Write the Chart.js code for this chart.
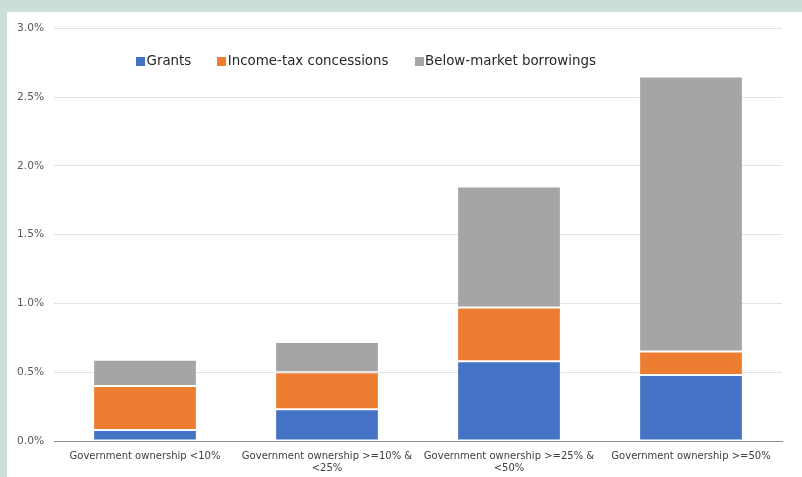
<!DOCTYPE html>
<html>
<head>
<meta charset="utf-8">
<script src="https://cdn.jsdelivr.net/npm/chart.js@4.4.1/dist/chart.umd.min.js"></script>
<style>
    html, body { margin: 0; padding: 0; }
    body {
        width: 802px;
        height: 477px;
        background: #cae0d6;
        position: relative;
        overflow: hidden;
        font-family: "DejaVu Sans", Verdana, sans-serif;
    }
    .panel { position: absolute; left: 7px; top: 12px; width: 795px; height: 465px; background: #ffffff; }
    #chart { display: block; }
    .legend {
        position: absolute;
        left: 129px;
        top: 41px;
        display: flex;
        align-items: center;
        font-size: 13.4px;
        line-height: 16px;
        color: #262626;
    }
    .legend .item { display: flex; align-items: center; margin-right: 26px; }
    .legend .swatch { display: inline-block; width: 9px; height: 9px; margin-right: 1.5px; }
</style>
</head>
<body>
<div class="panel">
    <canvas id="chart" width="795" height="465"></canvas>
    <div class="legend" id="legend"></div>
</div>
<script>
const categories = [
    ['Government ownership <10%'],
    ['Government ownership >=10% &', '<25%'],
    ['Government ownership >=25% &', '<50%'],
    ['Government ownership >=50%']
]
const seriesNames = ['Grants', 'Income-tax concessions', 'Below-market borrowings']
const grants = [0.08, 0.23, 0.58, 0.48]
const taxConcessions = [0.32, 0.27, 0.39, 0.17]
const belowMarket = [0.19, 0.22, 0.88, 2.0]
const yMin = 0
const yMax = 3.0
const yStep = 0.5

const colors = ['#4472c4', '#ed7d31', '#a5a5a5']
const values = [grants, taxConcessions, belowMarket]

const datasets = seriesNames.map((name, i) => ({
    label: name,
    data: values[i],
    backgroundColor: colors[i],
    borderColor: 'rgba(255,255,255,0.35)',
    borderWidth: 1,
    borderSkipped: false,
    barPercentage: 0.57,
    categoryPercentage: 1
}))

const chart = new Chart(document.getElementById('chart'), {
    type: 'bar',
    data: { labels: categories, datasets: datasets },
    options: {
        responsive: false,
        animation: false,
        layout: { padding: { top: 15, right: 20, bottom: 0, left: 0 } },
        plugins: {
            legend: { display: false },
            tooltip: { enabled: false }
        },
        scales: {
            x: {
                stacked: true,
                afterFit: (scale) => { scale.height = 36 },
                grid: { display: false, drawTicks: false },
                border: { display: true, color: '#8c8c8c', width: 1 },
                ticks: {
                    color: '#404040',
                    padding: 9,
                    maxRotation: 0,
                    autoSkip: false,
                    font: { family: '"DejaVu Sans", Verdana, sans-serif', size: 10, lineHeight: 1.2 }
                }
            },
            y: {
                stacked: true,
                min: yMin,
                max: yMax,
                afterFit: (scale) => { scale.width = 47 },
                grid: { color: '#e3e3e3', lineWidth: 1, drawTicks: false },
                border: { display: false },
                ticks: {
                    stepSize: yStep,
                    padding: 10,
                    color: '#595959',
                    font: { family: '"DejaVu Sans", Verdana, sans-serif', size: 10.6 },
                    callback: (v) => v.toFixed(1) + '%'
                }
            }
        }
    }
})

// legend sits inside the plot, built from the datasets
const legend = document.getElementById('legend')
chart.data.datasets.forEach(ds => {
    const item = document.createElement('span')
    item.className = 'item'
    item.innerHTML = `<span class="swatch" style="background:${ds.backgroundColor}"></span>${ds.label}`
    legend.appendChild(item)
})
</script>
</body>
</html>
